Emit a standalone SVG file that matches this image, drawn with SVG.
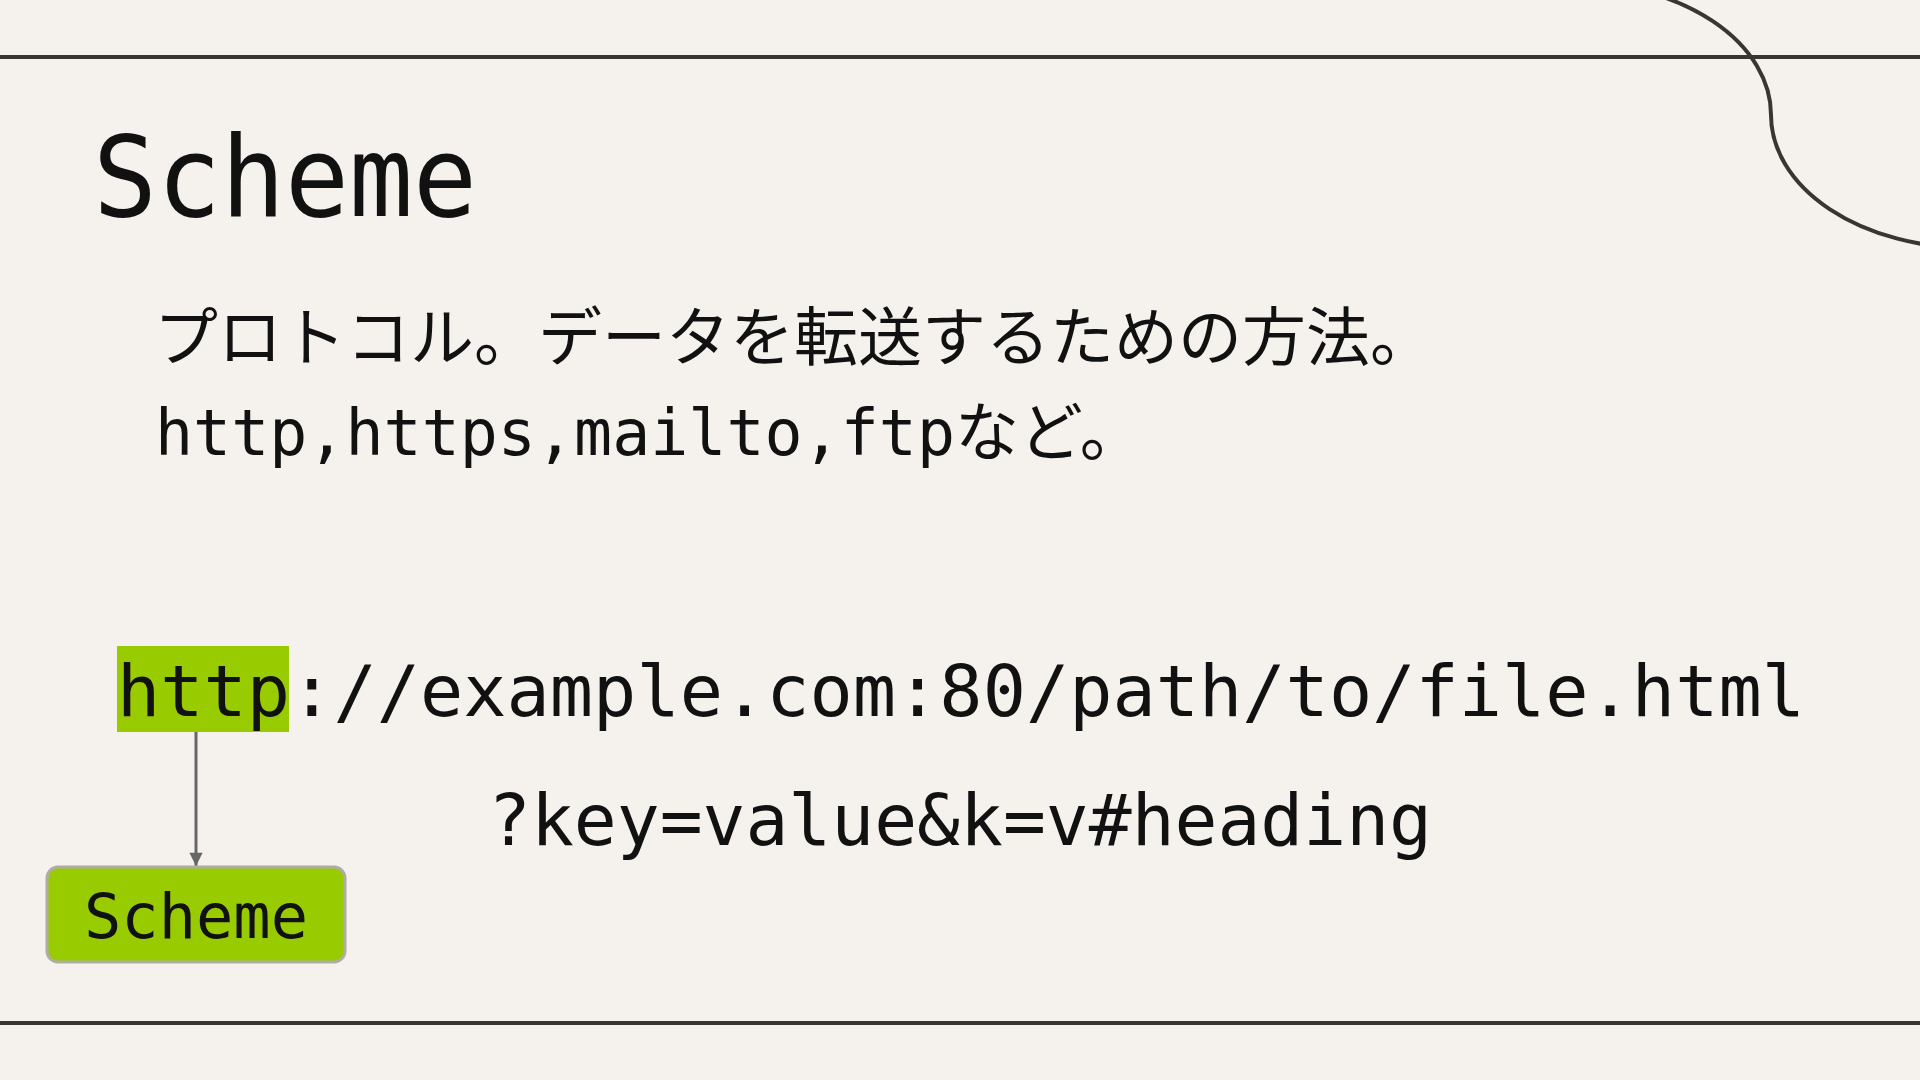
<svg xmlns="http://www.w3.org/2000/svg" width="1920" height="1080" viewBox="0 0 1920 1080">
  <style>
    .mono { font-family: "DejaVu Sans Mono", "Liberation Mono", "Noto Sans CJK JP", monospace; fill: #111111; }
    .jp { font-family: "Noto Sans CJK JP", "Noto Sans", sans-serif; fill: #111111; }
    .rule { stroke: #3a3531; stroke-width: 4; fill: none; }
    .green { fill: #99cc00; }
    .conn { stroke: #666666; stroke-width: 3; fill: none; }
  </style>
  <defs>
    <marker id="arrow" viewBox="0 0 10 10" refX="10" refY="5" markerWidth="5" markerHeight="4.4" markerUnits="strokeWidth" orient="auto">
      <path d="M0,0 L10,5 L0,10 Z" fill="#666666"/>
    </marker>
  </defs>

  <rect x="0" y="0" width="1920" height="1080" fill="#f5f2ed"/>

  <g id="decor">
    <line class="rule" x1="0" y1="57" x2="1920" y2="57"/>
    <line class="rule" x1="0" y1="1023" x2="1920" y2="1023"/>
    <path class="rule" d="M1571,-18 A200,133 0 0 1 1771,115 A200,133 0 0 0 1971,248"/>
  </g>

  <g id="title">
    <text class="mono" x="93" y="216" font-size="112" textLength="384" lengthAdjust="spacingAndGlyphs">Scheme</text>
  </g>

  <g id="description">
    <text class="jp" x="154" y="360" font-size="64">プロトコル。データを転送するための方法。</text>
    <text class="mono" x="155" y="455"><tspan font-size="64" textLength="800" lengthAdjust="spacingAndGlyphs">http,https,mailto,ftp</tspan><tspan font-size="64">など。</tspan></text>
  </g>

  <g id="url">
    <rect id="http-highlight" class="green" x="117" y="646" width="172" height="86"/>
    <text class="mono" x="117" y="716" font-size="72" textLength="1688" lengthAdjust="spacingAndGlyphs">http://example.com:80/path/to/file.html</text>
    <text class="mono" x="488" y="845" font-size="72" textLength="944" lengthAdjust="spacingAndGlyphs">?key=value&amp;k=v#heading</text>
  </g>

  <g id="connectors">
    <line class="conn" x1="196" y1="732" x2="196" y2="866" marker-end="url(#arrow)"/>
  </g>

  <g id="scheme-node">
    <rect x="47" y="867" width="298" height="95" rx="11" ry="11" fill="#99cc00" stroke="#adada5" stroke-width="3"/>
    <text class="mono" x="196" y="938" font-size="62" text-anchor="middle" fill="#1a1a1a">Scheme</text>
  </g>
</svg>
